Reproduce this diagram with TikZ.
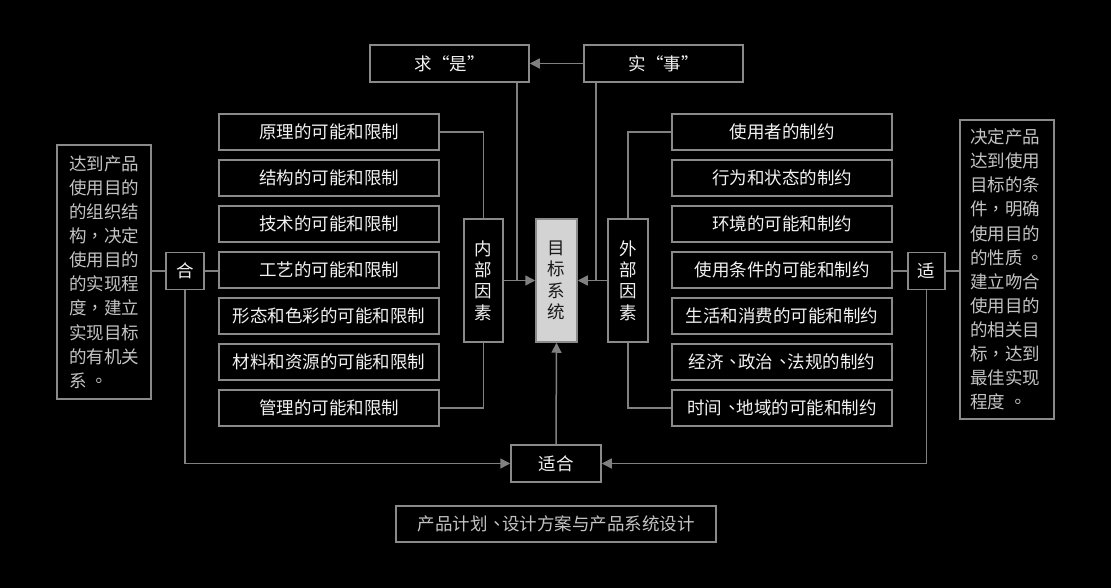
\documentclass[tikz,border=0pt]{standalone}
\usepackage{fontspec}
\setmainfont{Noto Sans CJK SC}
\newfontfamily\tcfont{Noto Sans CJK TC}
\newcommand{\cpunct}[1]{{\tcfont #1}}
\newcommand{\dun}{\kern1pt{\tcfont 、}\kern-4pt}
\newcommand{\jhao}{\kern4pt{\tcfont 。}}
\usetikzlibrary{arrows.meta}
\definecolor{bordc}{HTML}{8A8A8A}
\definecolor{linec}{HTML}{808080}
\definecolor{txtw}{HTML}{F2F2F2}
\definecolor{txtg}{HTML}{C4C4C4}
\definecolor{centfill}{HTML}{D3D3D3}
\definecolor{centtxt}{HTML}{1A1A1A}
\begin{document}
\begin{tikzpicture}[x=1pt,y=-1pt,
  box/.style={draw=bordc,line width=1.5pt,text=txtw,inner sep=0pt,align=center,
    font=\fontsize{17.5}{21}\selectfont},
  rowbox/.style={box,minimum width=220pt,minimum height=36pt},
  topbox/.style={box,minimum width=159pt,minimum height=37pt},
  vbox/.style={box,minimum width=39pt,minimum height=123pt,font=\fontsize{17.5}{21.3}\selectfont},
  smallbox/.style={box,minimum width=37pt,minimum height=37pt},
  sidebox/.style={box,text=txtg,align=left,font=\fontsize{17.5}{24.1}\selectfont,minimum width=94pt},
  conn/.style={draw=linec,line width=1.5pt},
  arr/.style={conn,-{Triangle[length=10pt,width=10pt]},color=linec}]
\fill[black] (0,0) rectangle (1111,588);
\useasboundingbox (0,0) rectangle (1111,588);

% top
\node[topbox] (qiushi) at (449.5,63.5) {求“是”};
\node[topbox] (shishi) at (663.5,63.5) {实“事”};

% centre
\node[vbox] (nei) at (483.5,280.5) {内\\部\\因\\素};
\node[vbox,fill=centfill,text=centtxt,minimum width=41pt] (mubiao) at (556.5,280.5) {目\\标\\系\\统};
\node[vbox,minimum width=40pt] (wai) at (628,280.5) {外\\部\\因\\素};

% left column
\node[rowbox] (l1) at (329,132) {原理的可能和限制};
\node[rowbox] (l2) at (329,178) {结构的可能和限制};
\node[rowbox] (l3) at (329,224) {技术的可能和限制};
\node[rowbox] (l4) at (329,270) {工艺的可能和限制};
\node[rowbox] (l5) at (329,316) {形态和色彩的可能和限制};
\node[rowbox] (l6) at (329,362) {材料和资源的可能和限制};
\node[rowbox] (l7) at (329,408) {管理的可能和限制};

% right column
\node[rowbox] (r1) at (782,132) {使用者的制约};
\node[rowbox] (r2) at (782,178) {行为和状态的制约};
\node[rowbox] (r3) at (782,224) {环境的可能和制约};
\node[rowbox] (r4) at (782,270) {使用条件的可能和制约};
\node[rowbox] (r5) at (782,316) {生活和消费的可能和制约};
\node[rowbox] (r6) at (782,362) {经济\dun 政治\dun 法规的制约};
\node[rowbox] (r7) at (782,408) {时间\dun 地域的可能和制约};

% side
\node[smallbox,minimum width=38pt] (he) at (185,271) {合};
\node[smallbox] (shi) at (926.5,271) {适};
\node[sidebox,minimum height=254pt] (ltext) at (104,272)
  {达到产品\\使用目的\\的组织结\\构\cpunct{，}决定\\使用目的\\的实现程\\度\cpunct{，}建立\\实现目标\\的有机关\\系\jhao};
\node[sidebox,minimum height=299pt] (rtext) at (1007,269.5)
  {决定产品\\达到使用\\目标的条\\件\cpunct{，}明确\\使用目的\\的性质\jhao\\建立吻合\\使用目的\\的相关目\\标\cpunct{，}达到\\最佳实现\\程度\jhao};

% bottom
\node[box,minimum width=90pt,minimum height=37pt] (shihe) at (556,463.5) {适合};
\node[box,text=txtg,minimum width=320pt,minimum height=36pt] (plan) at (556,524) {产品计划\dun 设计方案与产品系统设计};

% junction coordinates
\coordinate (jl) at (517,280.5);
\coordinate (jr) at (596,280.5);

% connectors
\draw[arr] (shishi.west) -- (qiushi.east);
\draw[conn] (qiushi.south -| jl) -- (jl);
\draw[conn] (shishi.south -| jr) -- (jr);
\draw[arr] (nei.east) -- (mubiao.west);
\draw[arr] (wai.west) -- (mubiao.east);
\draw[conn] (nei.north) |- (l1.east);
\draw[conn] (nei.south) |- (l7.east);
\draw[conn] (wai.north) |- (r1.west);
\draw[conn] (wai.south) |- (r7.west);
\draw[conn] (ltext.east |- he.west) -- (he.west);
\draw[conn] (he.east) -- (he.east -| l4.west);
\draw[conn] (shi.west) -- (shi.west -| r4.east);
\draw[conn] (shi.east) -- (shi.east -| rtext.west);
\draw[arr] (he.south) |- (shihe.west);
\draw[arr] (shi.south) |- (shihe.east);
\draw[arr] (shihe.north) -- (mubiao.south);
\end{tikzpicture}
\end{document}
